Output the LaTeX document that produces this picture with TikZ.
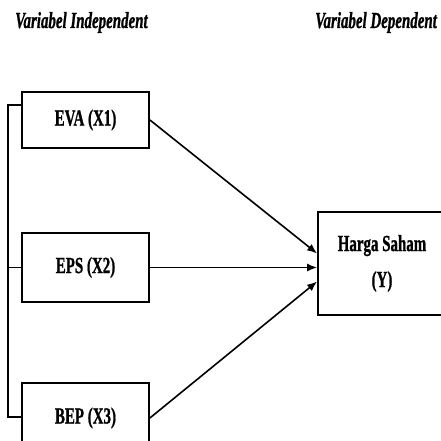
\documentclass[tikz,border=0pt]{standalone}
\usepackage{fontspec}
\setmainfont{Liberation Serif}[BoldFeatures={FakeBold=1.2},
  BoldItalicFeatures={FakeBold=1.2}]
\usetikzlibrary{arrows.meta}
\newcommand\schmal[1]{\scalebox{0.65}[1]{#1}}

\begin{document}
\begin{tikzpicture} [
    x=1pt, y=1pt,
    block/.style    = { rectangle, draw=black, line width=1.8pt,
                        minimum width=127pt, text centered, inner sep=0pt,
                        font=\fontsize{23}{27}\selectfont\bfseries},
    header/.style   = { anchor=base west, inner sep=0pt,
                        font=\fontsize{23}{27}\selectfont\bfseries\itshape},
    line/.style     = { draw, line width=1.6pt, -{Latex[length=10pt,width=8pt]}},
  ]
\useasboundingbox (0,0) rectangle (441,440);

%Ueberschriften
  \node [header] (hx) at (15,412) {\schmal{Variabel Independent}};
  \node [header] (hy) at (315,412) {\schmal{Variabel Dependent}};

%Knoten: a = unabhaengig, b = abhaengig
  \node [block, minimum height=56pt] (1a) at (85.5,320) {\schmal{EVA (X1)}};
  \node [block, minimum height=69pt] (2a) at (85.5,172.5) {\schmal{EPS (X2)}};
  \node [block, minimum height=70pt] (3a) at (85.5,22) {\schmal{BEP (X3)}};
  \node [block, minimum width=128pt, minimum height=103pt, align=center]
        (4b) at (382,176.5) {\schmal{Harga Saham}\\[9pt]\schmal{(Y)}};

%Klammer links
  \coordinate (kt) at (8,335);
  \coordinate (kb) at (8,23);
  \draw [line width=1.6pt] (1a.west |- kt) -- (kt) -- (kb) -- (3a.west |- kb);
  \draw [line width=1.6pt] (2a.west) -- (kt |- 2a.west);

%Pfeile
  \begin{scope} [every path/.style={line}]
   \path (1a.east) -- ([yshift=14pt]2a.east -| 4b.west);
   \path (2a.east) -- (2a.east -| 4b.west);
   \path (3a.east) -- ([yshift=-14pt]2a.east -| 4b.west);
  \end{scope}
\end{tikzpicture}
\end{document}
